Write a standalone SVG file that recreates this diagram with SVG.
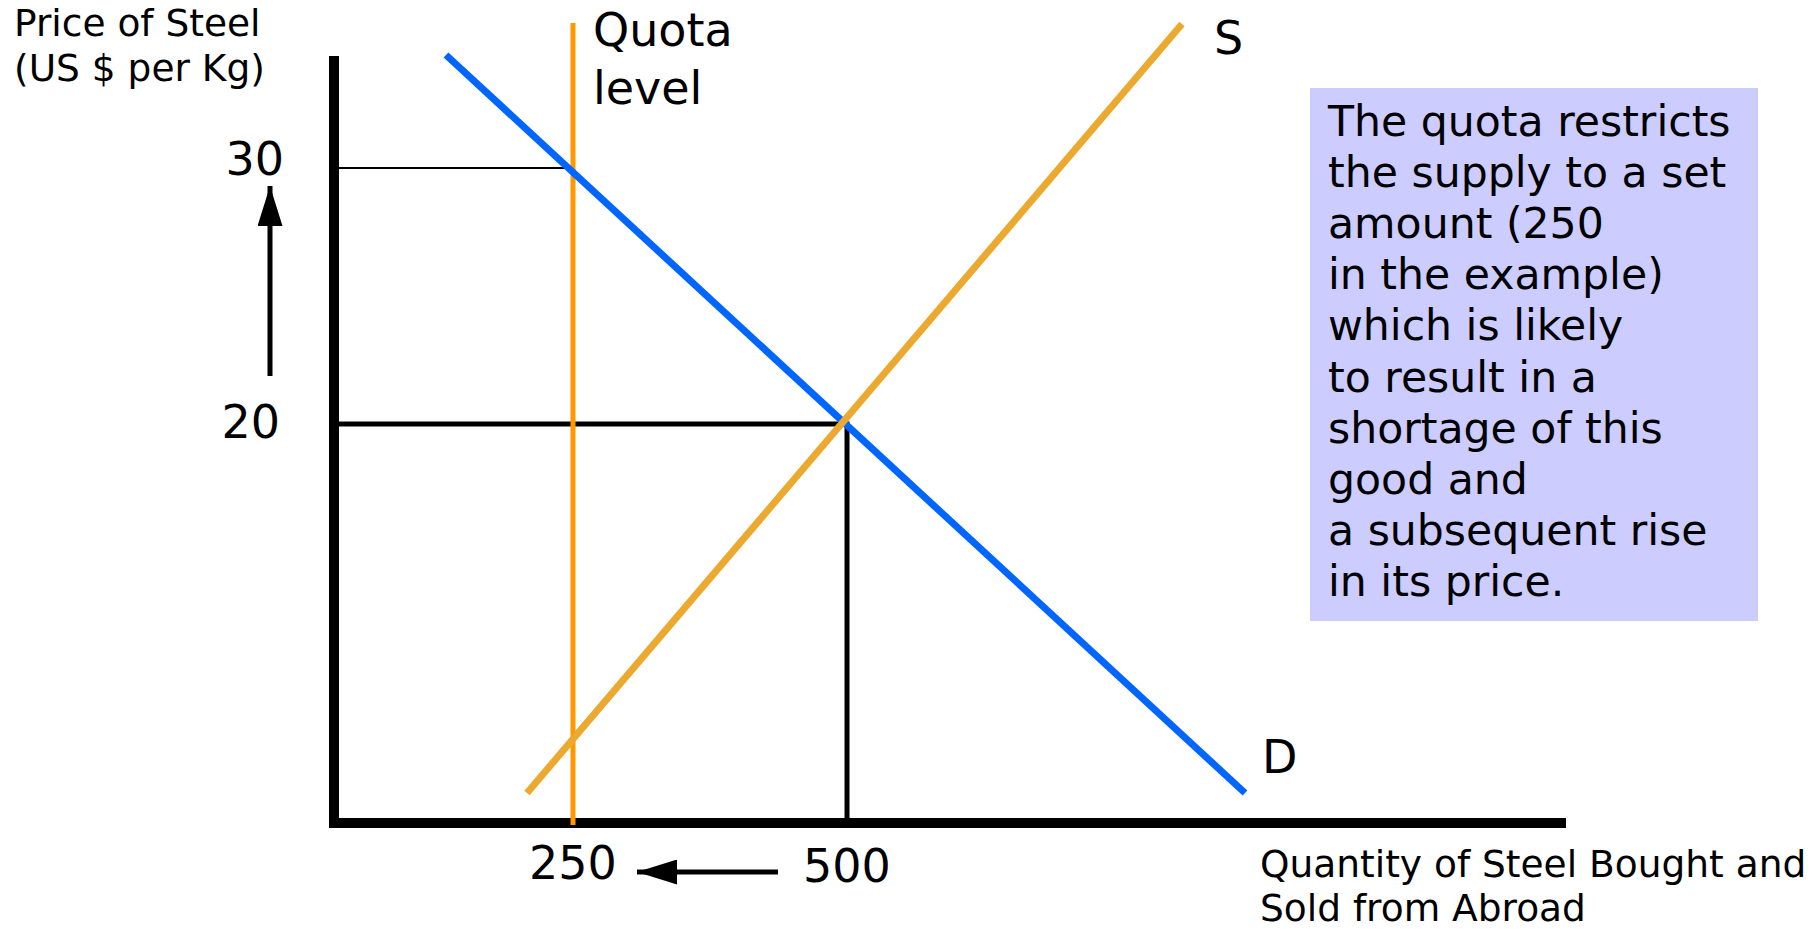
<svg xmlns="http://www.w3.org/2000/svg" width="1816" height="929" viewBox="0 0 1816 929">
<defs>
<style>
text{font-family:"DejaVu Sans","Verdana",sans-serif;fill:#000}
.lbl{font-size:37.5px}
.num{font-size:46px}
.box{font-size:42.6px}
.ax{stroke:#000;fill:none}
</style>
<marker id="ah" viewBox="0 0 10 10" refX="10" refY="5" markerWidth="8" markerHeight="5" markerUnits="strokeWidth" orient="auto" preserveAspectRatio="none"><path d="M0,0L10,5L0,10z" fill="#000"/></marker>
</defs>
<rect width="1816" height="929" fill="#fff"/>
<g id="axes">
<line class="ax" x1="334" y1="56" x2="334" y2="828" stroke-width="10"/>
<line class="ax" x1="334" y1="823" x2="1566" y2="823" stroke-width="10"/>
</g>
<g id="y-label"><text class="lbl" x="14" y="36">Price of Steel</text><text class="lbl" x="14" y="81">(US $ per Kg)</text></g>
<g id="x-label"><text class="lbl" x="1260" y="877">Quantity of Steel Bought and</text><text class="lbl" x="1260" y="921">Sold from Abroad</text></g>
<g id="connectors">
<line x1="338" y1="168" x2="573" y2="168" stroke="#000" stroke-width="2"/>
<polyline points="338,424 847,424 847,823" fill="none" stroke="#000" stroke-width="5"/>
<line x1="573" y1="23" x2="573" y2="825" stroke="#FF9900" stroke-width="5"/>
<line x1="446" y1="55" x2="1245" y2="793" stroke="#0066FF" stroke-width="7"/>
<line x1="527" y1="793" x2="1182" y2="24" stroke="#EBAA2F" stroke-width="7"/>
<line x1="270" y1="376" x2="270" y2="186" stroke="#000" stroke-width="5" marker-end="url(#ah)"/>
<line x1="778" y1="872" x2="637" y2="872" stroke="#000" stroke-width="5" marker-end="url(#ah)"/>
</g>
<g id="labels">
<text class="num" x="284" y="175" text-anchor="end">30</text>
<text class="num" x="280" y="438" text-anchor="end">20</text>
<text class="num" x="593" y="46">Quota</text>
<text class="num" x="593" y="104">level</text>
<text class="num" x="1214" y="54">S</text>
<text class="num" x="1262" y="773">D</text>
<text class="num" x="529" y="879">250</text>
<text class="num" x="803" y="882">500</text>
</g>
<g id="note">
<rect x="1310" y="88" width="448" height="533" fill="#CCCCFF"/>
<text class="box" x="1328">
<tspan x="1328" y="135.5">The quota restricts</tspan>
<tspan x="1328" y="186.7">the supply to a set</tspan>
<tspan x="1328" y="237.9">amount (250</tspan>
<tspan x="1328" y="289.1">in the example)</tspan>
<tspan x="1328" y="340.3">which is likely</tspan>
<tspan x="1328" y="391.5">to result in a</tspan>
<tspan x="1328" y="442.7">shortage of this</tspan>
<tspan x="1328" y="493.9">good and</tspan>
<tspan x="1328" y="545.1">a subsequent rise</tspan>
<tspan x="1328" y="596.3">in its price.</tspan>
</text>
</g>
</svg>
